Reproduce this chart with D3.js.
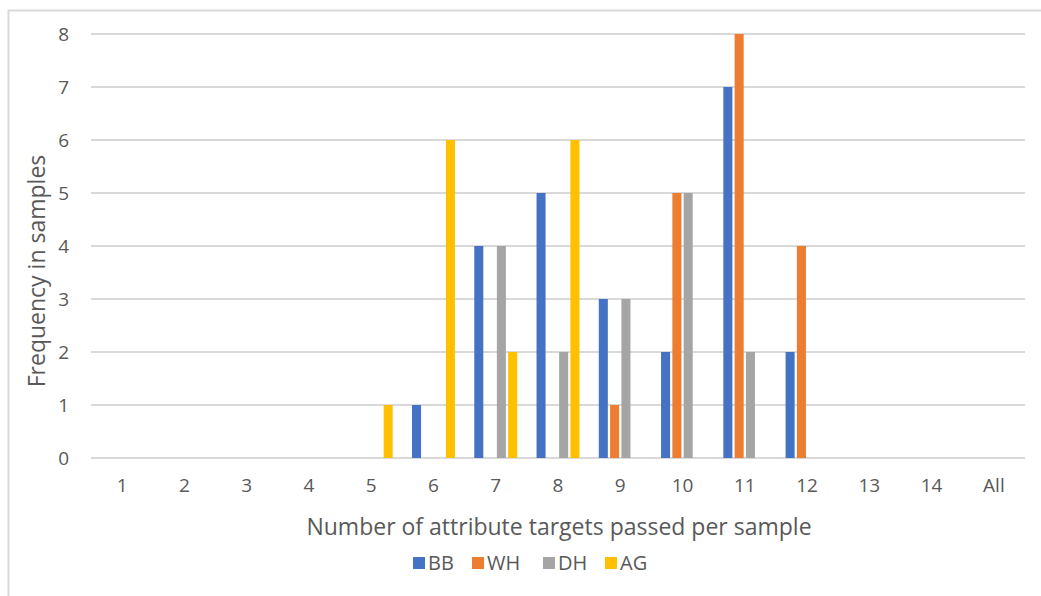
<!DOCTYPE html>
<html>
<head>
<meta charset="utf-8">
<script src="https://cdn.jsdelivr.net/npm/d3@7"></script>
<style>
  html, body { margin: 0; padding: 0; background: #fff; }
  svg { display: block; }
  text { font-family: "Open Sans", "Noto Sans", sans-serif; fill: #595959; }
</style>
</head>
<body>
<svg id="chart" width="1041" height="596"></svg>
<script>
const categories = ["1","2","3","4","5","6","7","8","9","10","11","12","13","14","All"];
const seriesNames = ["BB","WH","DH","AG"];
const BB = [0,0,0,0,0,1,4,5,3,2,7,2,0,0,0];
const WH = [0,0,0,0,0,0,0,0,1,5,8,4,0,0,0];
const DH = [0,0,0,0,0,0,4,2,3,5,2,0,0,0,0];
const AG = [0,0,0,0,1,6,2,6,0,0,0,0,0,0,0];
const yTicks = [0,1,2,3,4,5,6,7,8];
const colors = ["#4472C4","#ED7D31","#A5A5A5","#FFC000"];
const xTitle = "Number of attribute targets passed per sample";
const yTitle = "Frequency in samples";

const seriesValues = [BB, WH, DH, AG];
const svg = d3.select("#chart");

// outer border
svg.append("rect").attr("x", 8.5).attr("y", 10.5).attr("width", 1100).attr("height", 700)
  .attr("fill", "none").attr("stroke", "#d9d9d9").attr("stroke-width", 2);

const plot = {left: 91, right: 1025, top: 34, bottom: 458};

const x0 = d3.scaleBand().domain(categories).range([plot.left, plot.right]);
const bw = x0.bandwidth();
const groupW = 45.2;
const x1 = d3.scaleBand().domain(seriesNames)
  .range([(bw - groupW) / 2, (bw + groupW) / 2])
  .paddingInner(0.2).paddingOuter(0.1);
const y = d3.scaleLinear().domain([0, 8]).range([plot.bottom, plot.top]);

// gridlines
svg.append("g").selectAll("line").data(yTicks).join("line")
  .attr("x1", plot.left).attr("x2", plot.right)
  .attr("y1", d => y(d)).attr("y2", d => y(d))
  .attr("stroke", "#d9d9d9").attr("stroke-width", 2);

// y axis labels
const yAxis = d3.axisLeft(y).tickValues(yTicks).tickSize(0).tickPadding(0);
const gy = svg.append("g").attr("transform", `translate(${plot.left - 22},0)`).call(yAxis);
gy.select(".domain").remove();
gy.selectAll("text").style("font-size", "19px").attr("fill", "#595959")
  .style("font-family", "'Open Sans', sans-serif");

// x axis labels
const xAxis = d3.axisBottom(x0).tickSize(0).tickPadding(0);
const gx = svg.append("g").attr("transform", `translate(0,${plot.bottom + 20})`).call(xAxis);
gx.select(".domain").remove();
gx.selectAll("text").style("font-size", "19px").attr("fill", "#595959")
  .style("font-family", "'Open Sans', sans-serif");

// bars
const groups = svg.append("g").selectAll("g").data(categories).join("g")
  .attr("transform", d => `translate(${x0(d)},0)`);
groups.selectAll("rect")
  .data((c, i) => seriesNames.map((s, j) => ({s, j, v: seriesValues[j][i]})).filter(d => d.v > 0))
  .join("rect")
  .attr("x", d => x1(d.s))
  .attr("width", x1.bandwidth())
  .attr("y", d => y(d.v))
  .attr("height", d => y(0) - y(d.v))
  .attr("fill", d => colors[d.j]);

// axis titles
svg.append("text").attr("x", 559).attr("y", 535)
  .attr("text-anchor", "middle").style("font-size", "23px").text(xTitle);
svg.append("text").attr("transform", "translate(45,271) rotate(-90)")
  .attr("text-anchor", "middle").style("font-size", "23px").text(yTitle);

// legend
const legendX = [413, 472, 543, 605];
const lg = svg.append("g").selectAll("g").data(seriesNames).join("g")
  .attr("transform", (d, i) => `translate(${legendX[i]},557)`);
lg.append("rect").attr("width", 12).attr("height", 12).attr("fill", (d, i) => colors[i]);
lg.append("text").attr("x", 15).attr("y", 13).style("font-size", "20px").text(d => d);
</script>
</body>
</html>
